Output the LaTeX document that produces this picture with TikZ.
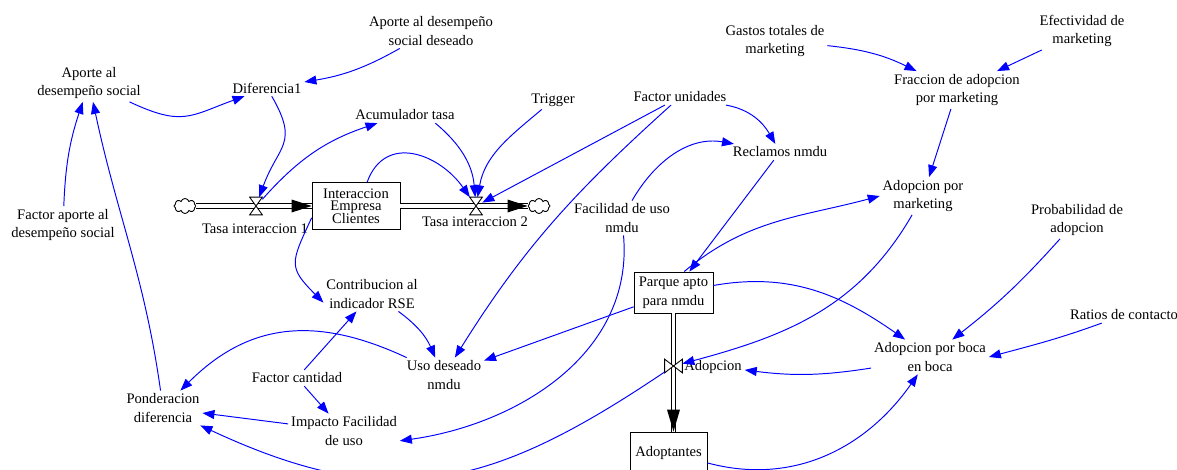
\documentclass[tikz,border=0pt]{standalone}
\usepackage{fontspec}
\setmainfont{Liberation Serif}
\usepackage{tikz}
\usetikzlibrary{arrows.meta,shapes.symbols}
\newcommand\tightlines{\fontsize{8.3}{7.2}\selectfont\lineskiplimit=-5pt\relax}

\begin{document}
\begin{tikzpicture}[x=0.02cm,y=0.02cm,
    every node/.style={font=\fontsize{8.3}{10.6}\selectfont, align=center, inner sep=1.5pt},
    lvl/.style={draw, line width=0.45pt, inner sep=1pt},
    valve/.style={minimum width=2.4mm, minimum height=3.4mm, inner sep=0pt},
    cloudy/.style={cloud, cloud puffs=8, draw, line width=0.5pt, aspect=1.5, minimum width=4.4mm, minimum height=3mm, inner sep=0pt},
    pipe/.style={double, double distance=1.8pt, line width=0.6pt},
    lnk/.style={blue, line width=0.55pt, -{Triangle[length=2.4mm,width=1.8mm]}}]
\useasboundingbox (0,0) rectangle (1177,-470);

    % stocks and flows
    \node[lvl, minimum width=1.76cm, minimum height=0.94cm, font=\tightlines] (box) at (356,-206) {Interaccion\\Empresa\\Clientes};
    \node[lvl, minimum width=1.58cm, minimum height=0.82cm] (parque) at (673.5,-292.5) {Parque apto\\para nmdu};
    \node[lvl, minimum width=1.54cm, minimum height=0.82cm] (adopt) at (668.5,-452.5) {Adoptantes};
    \node[cloudy] (cl1) at (185,-206) {};
    \node[cloudy] (cl2) at (539,-206) {};
    \node[valve] (v1) at (256,-206) {};
    \node[valve] (v2) at (476,-206) {};
    \node[valve, minimum width=3.4mm, minimum height=2.6mm] (v3) at (673.5,-366) {};

    \draw[pipe] (cl1) -- (box);
    \fill (box.west) -- ++(-20,6.5) -- ++(0,-13) -- cycle;
    \draw[pipe] (box) -- (cl2);
    \fill (cl2.west) -- ++(-20,6.5) -- ++(0,-13) -- cycle;
    \draw[pipe] (parque.south) -- (parque.south |- adopt.north);
    \fill (parque.south |- adopt.north) -- ++(-6.5,22) -- ++(13,0) -- cycle;

    \filldraw[fill=white, line width=0.5pt] (v1.north west) -- (v1.north east) -- (v1.south west) -- (v1.south east) -- cycle;
    \filldraw[fill=white, line width=0.5pt] (v2.north west) -- (v2.north east) -- (v2.south west) -- (v2.south east) -- cycle;
    \filldraw[fill=white, line width=0.5pt] (v3.north west) -- (v3.south west) -- (v3.north east) -- (v3.south east) -- cycle;

    \node (tasa1) at (255,-229) {Tasa interaccion 1};
    \node (tasa2) at (475,-222) {Tasa interaccion 2};
    \node (adopL) at (713,-367) {Adopcion};

    % variables
    \node (aporte) at (89,-83) {Aporte al\\desempeño social};
    \node (aporteDes) at (431,-31) {Aporte al desempeño\\social deseado};
    \node (dif) at (267,-88) {Diferencia1};
    \node (acum) at (405,-115) {Acumulador tasa};
    \node (trig) at (553,-100) {Trigger};
    \node (factU) at (680,-97) {Factor unidades};
    \node (gastos) at (775,-41) {Gastos totales de\\marketing};
    \node (efect) at (1082,-31) {Efectividad de\\marketing};
    \node (fracc) at (957,-90) {Fraccion de adopcion\\por marketing};
    \node (recl) at (780,-152) {Reclamos nmdu};
    \node (adMk) at (923,-196) {Adopcion por\\marketing};
    \node (factA) at (63,-225) {Factor aporte al\\desempeño social};
    \node (facil) at (622,-218) {Facilidad de uso\\nmdu};
    \node (prob) at (1077,-220) {Probabilidad de\\adopcion};
    \node (contrib) at (372,-294) {Contribucion al\\indicador RSE};
    \node (ratios) at (1124,-315) {Ratios de contacto};
    \node (boca) at (930,-357) {Adopcion por boca\\en boca};
    \node (uso) at (444,-375) {Uso deseado\\nmdu};
    \node (factC) at (297,-378) {Factor cantidad};
    \node (pond) at (163,-408) {Ponderacion\\diferencia};
    \node (impacto) at (344,-431) {Impacto Facilidad\\de uso};

    % draw the links
    \draw[lnk] (aporteDes) to[bend left=10] (dif);
    \draw[lnk] (aporte) to[out=-25,in=-160,looseness=1.3] (dif);
    \draw[lnk] (dif) to[out=-60,in=70,looseness=1.4] (v1);
    \draw[lnk] (v1) to[bend left=15] (acum);
    \draw[lnk] (acum.-15) to[out=-40,in=95] (v2);
    \draw[lnk] (trig) to[out=-140,in=80] (v2);
    \draw[lnk] (box.65) to[out=70,in=125,looseness=1.3] (v2);
    \draw[lnk] (factU) -- (v2);
    \draw[lnk] (factU) to[out=-138,in=58] (uso);
    \draw[lnk] (factU) to[out=-10,in=120] (recl);
    \draw[lnk] (facil) to[out=60,in=170] (recl);
    \draw[lnk] (recl) -- (parque);
    \draw[lnk] (parque.63) to[out=40,in=195] (adMk.west);
    \draw[lnk] (fracc) -- (adMk);
    \draw[lnk] (gastos) to[bend left=10] (fracc);
    \draw[lnk] (efect) -- (fracc);
    \draw[lnk] (adMk) to[out=-120,in=15] (v3);
    \draw[lnk] (parque) to[out=10,in=145] (boca);
    \draw[lnk] (prob) to[bend left=5] (boca);
    \draw[lnk] (ratios) to[out=-160,in=15] (boca.east);
    \draw[lnk] (boca) to[bend left=8] (adopL);
    \draw[lnk] (adopt) to[out=-15,in=-125] (boca);
    \draw[lnk] (v3) to[out=-146,in=-25,looseness=1.15] (pond);
    \draw[lnk] (facil) to[out=-85,in=8] (impacto.-10);
    \draw[lnk] (parque) -- (uso);
    \draw[lnk] (contrib) to[bend left=15] (uso);
    \draw[lnk] (uso) to[out=155,in=45,looseness=1.1] (pond);
    \draw[lnk] (factC) -- (contrib);
    \draw[lnk] (factC) -- (impacto);
    \draw[lnk] (impacto) -- (pond);
    \draw[lnk] (pond) to[out=98,in=-78] (aporte);
    \draw[lnk] (factA) to[bend left=8] (aporte);
    \draw[lnk] (box.-165) to[out=-115,in=135,looseness=1.5] (contrib.-170);

\end{tikzpicture}
\end{document}
